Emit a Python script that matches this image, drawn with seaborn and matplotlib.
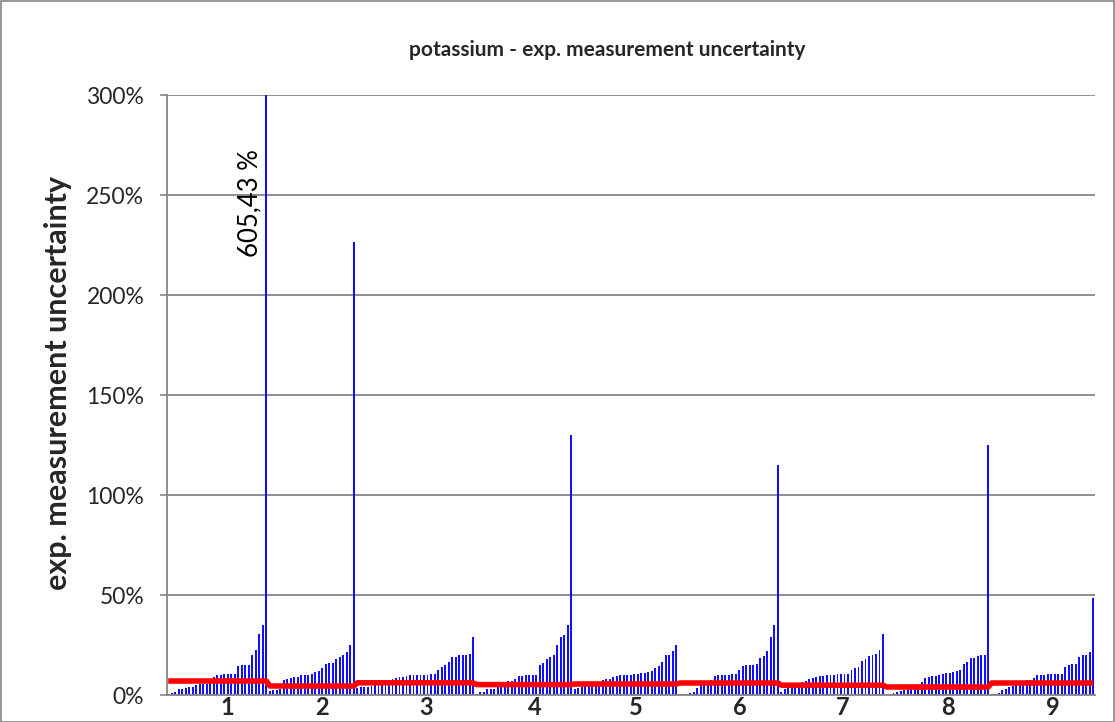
import numpy as np
import pandas as pd
import matplotlib
matplotlib.use("Agg")
import matplotlib.pyplot as plt
from matplotlib.patches import Rectangle
import seaborn as sns

# expanded measurement uncertainty per sample (%), sorted within each group
g1 = [0.3, 0.8, 1.5, 2.8, 2.8, 3.3, 3.8, 4.0, 5.0, 5.3, 5.7, 5.7, 6.2, 8.8, 9.8,
      10.0, 10.3, 10.3, 10.3, 10.7, 14.5, 14.8, 14.8, 15.0, 20.2, 22.3, 30.3, 35.0, 605.43]
g2 = [2.0, 2.3, 2.5, 3.0, 7.5, 7.8, 8.3, 8.8, 9.2, 10.0, 10.0, 10.0, 10.3, 11.7, 12.0,
      13.5, 15.3, 15.8, 16.0, 18.0, 19.2, 20.0, 21.3, 25.0, 226.5]
g3 = [3.5, 3.8, 3.8, 4.2, 4.5, 4.8, 5.2, 5.8, 6.5, 7.2, 7.8, 8.7, 8.8, 9.0, 9.5,
      10.0, 10.0, 10.0, 10.0, 10.0, 10.2, 10.5, 10.5, 12.5, 14.2, 15.0, 16.7, 19.2, 19.2,
      20.0, 20.0, 20.0, 20.3, 29.2]
g4 = [0.3, 1.5, 1.5, 2.8, 3.2, 3.2, 3.8, 4.5, 6.3, 6.8, 7.2, 7.8, 9.3, 9.7, 9.8,
      10.0, 10.0, 10.0, 15.0, 15.8, 18.0, 19.2, 20.0, 25.0, 29.0, 30.2, 35.0, 130.0]
g5 = [3.0, 3.5, 4.0, 4.3, 4.7, 5.0, 5.5, 6.0, 7.5, 8.0, 8.0, 9.0, 9.3, 9.8, 9.8,
      10.0, 10.0, 10.5, 10.7, 11.0, 11.0, 11.7, 12.0, 13.3, 14.5, 16.5, 20.0, 20.0, 22.2, 25.0]
g6 = [0.0, 0.2, 0.3, 0.8, 1.5, 3.5, 5.0, 6.5, 7.0, 7.5, 9.5, 10.0, 10.0, 10.0, 10.2,
      10.3, 10.5, 12.5, 14.5, 14.8, 14.8, 15.0, 15.3, 18.3, 19.3, 22.0, 29.2, 35.0, 115.0]
g7 = [1.5, 3.0, 4.0, 4.5, 5.0, 5.5, 6.3, 7.2, 7.8, 8.3, 8.8, 9.3, 9.3, 9.8, 9.8,
      9.8, 10.3, 10.3, 10.3, 10.7, 12.3, 13.5, 13.8, 16.8, 17.8, 19.3, 19.8, 20.3, 22.3, 30.3]
g8 = [0.3, 0.5, 0.8, 1.5, 2.0, 2.5, 3.0, 3.3, 3.5, 3.8, 6.3, 8.7, 8.8, 9.3, 9.7,
      10.0, 10.5, 10.8, 10.8, 11.7, 12.0, 12.5, 15.3, 16.7, 18.5, 18.7, 19.7, 20.0, 20.2, 125.0]
g9 = [0.3, 0.7, 1.0, 2.7, 3.0, 4.0, 4.7, 5.0, 5.5, 6.0, 7.5, 7.5, 8.5, 10.0, 10.0,
      10.0, 10.3, 10.3, 10.3, 10.3, 10.3, 14.0, 15.2, 15.3, 15.3, 19.2, 20.0, 20.0, 21.3, 48.7]
groups = [g1, g2, g3, g4, g5, g6, g7, g8, g9]
group_labels = ["1", "2", "3", "4", "5", "6", "7", "8", "9"]

# reference level per group (%)
group_level = [7.0, 4.5, 6.1, 5.2, 5.5, 6.0, 4.9, 4.0, 6.0]

title = "potassium - exp. measurement uncertainty"
y_label = "exp. measurement uncertainty"
y_max = 300

rows = []
for gi, vals in enumerate(groups):
    for v in vals:
        rows.append({"group": gi, "value": v, "level": group_level[gi]})
df = pd.DataFrame(rows)
df["pos"] = np.arange(len(df))

sns.set_theme(style="white")
plt.rcParams["font.family"] = ["Lato", "DejaVu Sans"]

W, H = 1115, 722
fig = plt.figure(figsize=(W / 100, H / 100), dpi=100)
ax = fig.add_axes([166.5 / W, 27 / H, 928.5 / W, 600 / H])

grid_c = "#868686"
ax.set_ylim(0, y_max)
ax.set_xlim(-0.5, len(df) - 0.5)
ax.set_yticks(np.arange(0, y_max + 1, 50))
ax.yaxis.grid(True, color=grid_c, linewidth=1.3)
ax.set_axisbelow(True)

sns.barplot(data=df, x="pos", y="value", native_scale=True, color="#1010FF",
            saturation=1, width=0.55, errorbar=None, linewidth=0, ax=ax)
sns.lineplot(data=df, x="pos", y="level", color="#FF0000", linewidth=4.0,
             estimator=None, ax=ax, solid_capstyle="butt")

# label for the bar that runs off the scale
over = df[df["value"] > y_max]
for _, r in over.iterrows():
    txt = f"{r['value']:.2f} %".replace(".", ",")
    ax.text(r["pos"] - 1.2, 219, txt, rotation=90, ha="right", va="bottom",
            fontsize=18.5, color="black")

# category labels under each group
counts = [len(g) for g in groups]
starts = np.concatenate([[0], np.cumsum(counts)[:-1]])
centers = starts + (np.array(counts) - 1) / 2 + 3
ax.set_xticks(centers)
ax.set_xticklabels(group_labels, fontsize=17, fontweight="bold")
ax.tick_params(axis="x", length=0, pad=1)
ax.tick_params(axis="y", length=5, width=1.2, color=grid_c, direction="out",
               labelsize=16.5, pad=11, left=True)
ax.set_yticklabels([f"{t:.0f}%" for t in ax.get_yticks()])
ax.set_xlabel("")
ax.set_ylabel("")

for side in ["top", "right"]:
    ax.spines[side].set_visible(False)
for side in ["left", "bottom"]:
    ax.spines[side].set_color(grid_c)
    ax.spines[side].set_linewidth(1.3)

fig.text(58 / W, 1 - 383 / H, y_label, rotation=90, ha="center", va="center",
         fontsize=22, fontweight="bold")
fig.text(0.545, 1 - 50 / H, title, ha="center", va="center",
         fontsize=15, fontweight="bold")

fig.patches.append(Rectangle((0.5 / W, 0.5 / H), 1 - 1.5 / W, 1 - 1.5 / H,
                             transform=fig.transFigure, fill=False,
                             edgecolor=grid_c, linewidth=1.2))

fig.savefig("out.png", dpi=100)
